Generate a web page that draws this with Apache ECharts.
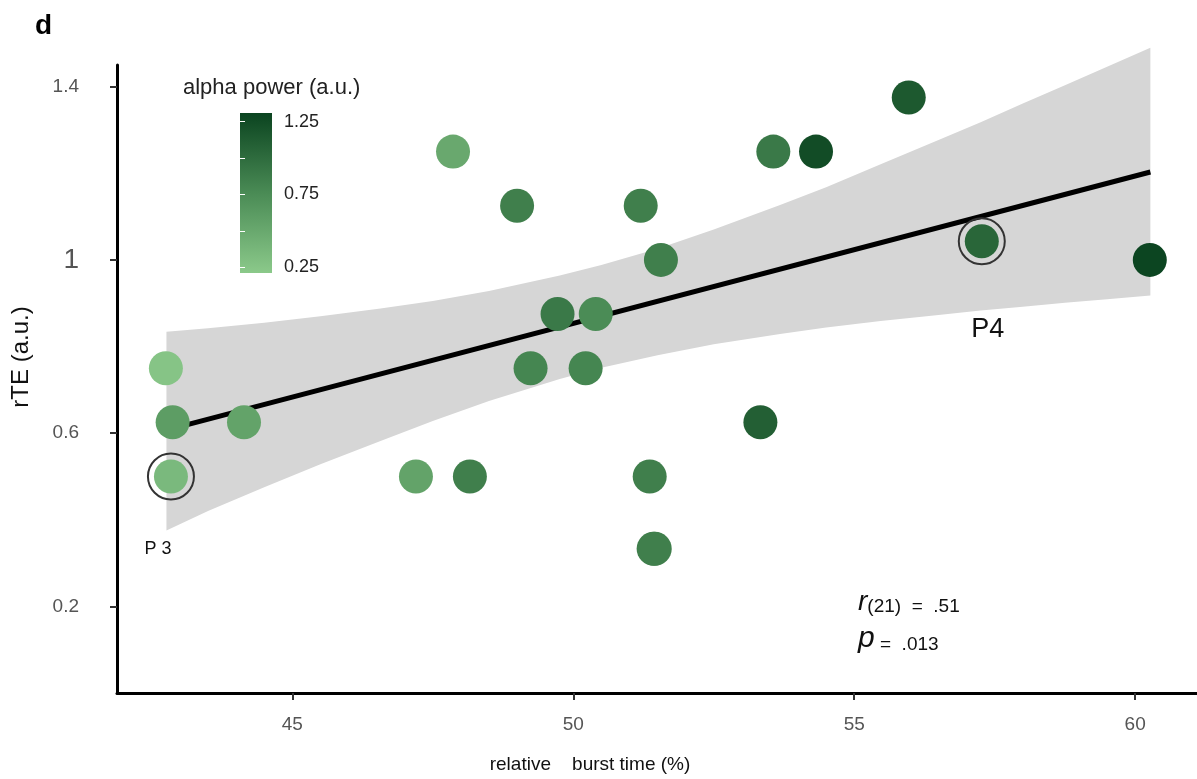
<!DOCTYPE html>
<html>
<head>
<meta charset="utf-8">
<title>rTE vs relative burst time</title>
<script src="https://cdn.jsdelivr.net/npm/echarts@6/dist/echarts.min.js"></script>
<style>
  html, body { margin: 0; padding: 0; background: #fff; }
  #chart { width: 1197px; height: 779px; }
</style>
</head>
<body>
<div id="chart"></div>
<script>
// one entry per participant: relative burst time (%), rTE (a.u.), alpha power (a.u.)
var burstTime  = [42.75, 42.87, 44.14, 42.84, 47.20, 48.16, 47.86, 49.00, 51.20, 51.56, 49.72, 50.40,
                  49.24, 50.22, 53.33, 51.36, 51.43, 51.45, 55.97, 53.56, 54.32, 57.27, 60.26];
var rte        = [0.75, 0.625, 0.625, 0.5, 0.5, 0.5, 1.25, 1.125, 1.125, 1.0, 0.875, 0.875,
                  0.75, 0.75, 0.625, 0.5, 0.333, 0.333, 1.375, 1.25, 1.25, 1.043, 1.0];
var alphaPower = [0.25, 0.6, 0.55, 0.35, 0.55, 0.85, 0.5, 0.85, 0.85, 0.85, 0.9, 0.75,
                  0.8, 0.8, 1.1, 0.85, 0.85, 0.85, 1.15, 0.9, 1.25, 1.05, 1.3];

// highlighted participants
var hlX      = [42.84, 57.27];
var hlY      = [0.5, 1.043];
var hlLabels = ['P 3', 'P4'];

// linear fit and its confidence band (edges)
var fitX      = [42.76, 60.27];
var fitY      = [0.607, 1.203];
var bandX     = [42.76, 43.5, 44.5, 45.5, 46.57, 47.5, 48.5, 49.76, 50.5, 51.5,
                 52.5, 53.68, 54.5, 55.47, 56.5, 57.25, 58.0, 58.75, 59.5, 60.27];
var bandUpper = [0.834, 0.842, 0.855, 0.870, 0.888, 0.905, 0.928, 0.964, 0.988, 1.026,
                 1.070, 1.127, 1.168, 1.221, 1.277, 1.318, 1.361, 1.403, 1.446, 1.49];
var bandLower = [0.375, 0.42, 0.475, 0.528, 0.582, 0.628, 0.674, 0.725, 0.751, 0.780,
                 0.805, 0.829, 0.844, 0.859, 0.873, 0.883, 0.892, 0.901, 0.909, 0.918];

// ticks
var xTicks   = [45, 50, 55, 60];
var yTicks   = [0.2, 0.6, 1, 1.4];
var cbTicks  = [0.25, 0.5, 0.75, 1, 1.25];
var cbLabels = [0.25, 0.75, 1.25];
var cbRange  = [0.21, 1.31];
var palette  = ['#8bc98a', '#4a8b55', '#0b4420'];

var font = '"Liberation Sans", Arial, sans-serif';

var chart = echarts.init(document.getElementById('chart'));

var points = [];
for (var i = 0; i < burstTime.length; i++) {
  points.push([burstTime[i], rte[i], alphaPower[i]]);
}

var labelOffsets = [[-13, 73], [6, 88]];
var labelSizes = [18, 27];
var rings = [];
for (var j = 0; j < hlX.length; j++) {
  rings.push({
    value: [hlX[j], hlY[j]],
    label: {
      show: true,
      formatter: hlLabels[j],
      position: 'inside',
      offset: labelOffsets[j],
      fontSize: labelSizes[j],
      color: '#111',
      fontFamily: font
    }
  });
}

var fitData = [];
for (var k = 0; k < fitX.length; k++) fitData.push([fitX[k], fitY[k]]);

var option = {
  animation: false,
  backgroundColor: '#fff',
  grid: [
    {left: 117, top: 65, width: 1080, height: 631.4},
    {left: 240, top: 113, width: 32, height: 160}
  ],
  xAxis: [
    {
      type: 'value',
      min: 41.88,
      max: 61.1,
      splitLine: {show: false},
      axisLine: {lineStyle: {color: '#000', width: 3}},
      axisTick: {customValues: xTicks, length: 7, lineStyle: {color: '#333', width: 2}},
      axisLabel: {customValues: xTicks, margin: 22, fontSize: 19, color: '#555', fontFamily: font},
      name: 'relative    burst time (%)',
      nameLocation: 'middle',
      nameGap: 62,
      nameTextStyle: {fontSize: 19, color: '#111', fontFamily: font, padding: [0, 134, 0, 0]}
    },
    {gridIndex: 1, type: 'value', min: 0, max: 1, show: false}
  ],
  yAxis: [
    {
      type: 'value',
      min: 0,
      max: 1.45,
      splitLine: {show: false},
      axisLine: {show: true, lineStyle: {color: '#000', width: 3}},
      axisTick: {show: true, customValues: yTicks, length: 7, lineStyle: {color: '#333', width: 2}},
      axisLabel: {
        customValues: yTicks,
        margin: 38,
        fontSize: 19,
        color: '#555',
        fontFamily: font,
        formatter: function(v) { return v === 1 ? '{big|1}' : String(v); },
        rich: {big: {fontSize: 28, color: '#555', fontFamily: font}}
      },
      name: 'rTE (a.u.)',
      nameLocation: 'middle',
      nameRotate: 90,
      nameGap: 84,
      nameTextStyle: {fontSize: 24, color: '#111', fontFamily: font, padding: [0, 0, 0, 44]}
    },
    {
      gridIndex: 1,
      type: 'value',
      min: cbRange[0],
      max: cbRange[1],
      position: 'right',
      z: 5,
      splitLine: {show: false},
      axisLine: {show: false},
      axisTick: {show: true, inside: true, customValues: cbTicks, length: 5, lineStyle: {color: '#fff', width: 1}},
      axisLabel: {customValues: cbLabels, margin: 12, fontSize: 18, color: '#222', fontFamily: font}
    },
    {
      gridIndex: 1,
      type: 'value',
      min: cbRange[0],
      max: cbRange[1],
      position: 'left',
      z: 5,
      splitLine: {show: false},
      axisLine: {show: false},
      axisTick: {show: true, inside: true, customValues: cbTicks, length: 5, lineStyle: {color: '#fff', width: 1}},
      axisLabel: {show: false}
    }
  ],
  visualMap: {
    type: 'continuous',
    show: false,
    seriesIndex: 2,
    dimension: 2,
    min: cbRange[0],
    max: cbRange[1],
    inRange: {color: palette}
  },
  series: [
    {
      name: 'band',
      type: 'custom',
      silent: true,
      z: 1,
      data: [[bandX[0], bandLower[0]]],
      renderItem: function(params, api) {
        var pts = [];
        for (var a = 0; a < bandX.length; a++) pts.push(api.coord([bandX[a], bandUpper[a]]));
        for (var b = bandX.length - 1; b >= 0; b--) pts.push(api.coord([bandX[b], bandLower[b]]));
        return {type: 'polygon', shape: {points: pts}, style: {fill: '#d6d6d6'}};
      }
    },
    {
      name: 'fit',
      type: 'line',
      z: 2,
      symbol: 'none',
      data: fitData,
      lineStyle: {color: '#000', width: 5}
    },
    {
      name: 'participants',
      type: 'scatter',
      z: 3,
      symbolSize: 34,
      itemStyle: {opacity: 1},
      data: points
    },
    {
      name: 'highlight',
      type: 'scatter',
      z: 4,
      symbolSize: 46,
      itemStyle: {color: 'rgba(0,0,0,0)', borderColor: '#333', borderWidth: 2, opacity: 1},
      data: rings
    },
    {
      name: 'colorbar',
      type: 'custom',
      xAxisIndex: 1,
      yAxisIndex: 1,
      silent: true,
      data: [[0, cbRange[0]]],
      renderItem: function(params, api) {
        var tl = api.coord([0, cbRange[1]]);
        var br = api.coord([1, cbRange[0]]);
        return {
          type: 'rect',
          shape: {x: tl[0], y: tl[1], width: br[0] - tl[0], height: br[1] - tl[1]},
          style: {
            fill: new echarts.graphic.LinearGradient(0, 0, 0, 1, [
              {offset: 0, color: palette[2]},
              {offset: 0.5, color: palette[1]},
              {offset: 1, color: palette[0]}
            ])
          }
        };
      }
    }
  ],
  graphic: [
    {
      type: 'text', left: 35, top: 12,
      style: {text: 'd', font: 'bold 28px ' + font, fill: '#000'}
    },
    {
      type: 'text', left: 183, top: 77,
      style: {text: 'alpha power (a.u.)', font: '22px ' + font, fill: '#222'}
    },
    {
      type: 'text', left: 858, top: 588,
      style: {
        text: '{i|r}{n|(21)  =  .51}',
        rich: {
          i: {font: 'italic 28px ' + font, fill: '#111', verticalAlign: 'bottom', lineHeight: 30},
          n: {font: '19px ' + font, fill: '#111', verticalAlign: 'bottom', lineHeight: 26}
        }
      }
    },
    {
      type: 'text', left: 858, top: 624,
      style: {
        text: '{i|p}{n| =  .013}',
        rich: {
          i: {font: 'italic 30px ' + font, fill: '#111', verticalAlign: 'bottom', lineHeight: 30},
          n: {font: '19px ' + font, fill: '#111', verticalAlign: 'bottom', lineHeight: 26}
        }
      }
    }
  ]
};

chart.setOption(option);
</script>
</body>
</html>
